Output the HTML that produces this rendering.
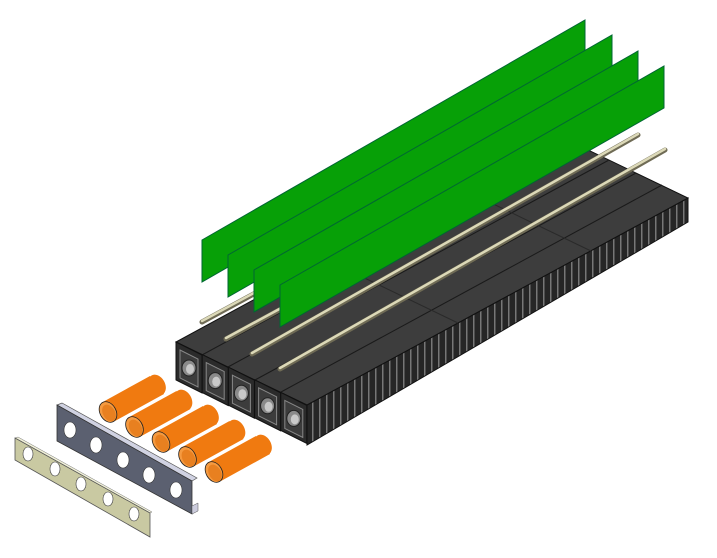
<!DOCTYPE html>
<html><head><meta charset="utf-8"><style>html,body{margin:0;padding:0;background:#fff}svg{display:block}</style></head>
<body>
<svg width="717" height="558" viewBox="0 0 717 558" xmlns="http://www.w3.org/2000/svg">
<defs>
<pattern id="ribs" patternUnits="userSpaceOnUse" width="7" height="40">
<rect width="7" height="40" fill="#262626"/>
<rect x="4" width="1.5" height="40" fill="#777"/>
</pattern>
</defs>
<polygon points="307,405 688,198 688,222 307,445" fill="url(#ribs)" stroke="#111" stroke-width="1"/>
<polygon points="176,342 307,405 688,198 557,135" fill="#3d3d3d" stroke="#111" stroke-width="1"/>
<g stroke="#1a1a1a" stroke-width="1">
<line x1="202" y1="355" x2="583" y2="148"/>
<line x1="228" y1="367" x2="609" y2="160"/>
<line x1="255" y1="380" x2="636" y2="173"/>
<line x1="281" y1="392" x2="662" y2="185"/>
</g>
<g stroke="#2a2a2a" stroke-width="1">
<line x1="327" y1="260" x2="458" y2="323"/>
<line x1="460" y1="188" x2="591" y2="251"/>
</g>
<g id="ch">
<polygon points="176,342 202,355 202,393 176,380" fill="#2b2b2b" stroke="#111"/>
<polygon points="180,350 198,359 198,387 180,378" fill="#3c3c3c" stroke="#888" stroke-width="1"/>
<ellipse cx="189" cy="368" rx="7" ry="8" fill="#8a8a8a" stroke="#222"/>
<ellipse cx="190" cy="369" rx="4" ry="5" fill="#c9c9c9"/>
</g>
<use href="#ch" transform="translate(26.2,12.6)"/>
<use href="#ch" transform="translate(52.4,25.2)"/>
<use href="#ch" transform="translate(78.6,37.8)"/>
<use href="#ch" transform="translate(104.8,50.4)"/>
<g stroke-linecap="round">
<g stroke="#6f6b55" stroke-width="5">
<line x1="202" y1="322" x2="560" y2="128"/>
<line x1="226" y1="339" x2="590" y2="141"/>
<line x1="252" y1="354" x2="638" y2="135"/>
<line x1="280" y1="369" x2="665" y2="150"/>
</g>
<g stroke="#dcd9b8" stroke-width="2.5">
<line x1="202" y1="321" x2="560" y2="127"/>
<line x1="226" y1="338" x2="590" y2="140"/>
<line x1="252" y1="353" x2="638" y2="134"/>
<line x1="280" y1="368" x2="665" y2="149"/>
</g>
</g>
<g fill="#07a007" stroke="#063" stroke-width="1">
<polygon points="202,240 585,20 585,62 202,282"/>
<polygon points="228,255 612,35 612,77 228,297"/>
<polygon points="254,270 638,51 638,93 254,312"/>
<polygon points="280,285 664,66 664,108 280,327"/>
</g>
<g id="tb">
<polygon points="101,403 150,376 164,394 115,421" fill="#f07a10"/>
<ellipse cx="157" cy="385" rx="8" ry="11" transform="rotate(-30 157 385)" fill="#f07a10"/>
<ellipse cx="108" cy="412" rx="8" ry="11" transform="rotate(-30 108 412)" fill="#f59a40" stroke="#222" stroke-width="0.8"/>
<ellipse cx="109" cy="413" rx="6" ry="9" transform="rotate(-30 109 413)" fill="#e88020"/>
</g>
<use href="#tb" transform="translate(26.5,15)"/>
<use href="#tb" transform="translate(53,30)"/>
<use href="#tb" transform="translate(79.5,45)"/>
<use href="#tb" transform="translate(106,60)"/>
<polygon points="57,405 62,403 197,478 192,481" fill="#d0d2e2" stroke="#555" stroke-width="0.7"/>
<polygon points="57,405 192,481 192,514 57,441" fill="#5b6070" stroke="#333" stroke-width="0.8"/>
<polygon points="192,506 198,503 198,511 192,514" fill="#ccd" stroke="#555" stroke-width="0.5"/>
<g fill="#fff" stroke="#333" stroke-width="0.6">
<ellipse cx="70" cy="430" rx="6" ry="8"/>
<ellipse cx="96" cy="445" rx="6" ry="8"/>
<ellipse cx="123" cy="460" rx="6" ry="8"/>
<ellipse cx="149" cy="475" rx="6" ry="8"/>
<ellipse cx="176" cy="490" rx="6" ry="8"/>
</g>
<polygon points="15,438 18,437 152,512 150,513" fill="#f0f0d8" stroke="#777" stroke-width="0.5"/>
<polygon points="15,438 150,513 150,537 15,460" fill="#c9c9a2" stroke="#555" stroke-width="0.8"/>
<g fill="#fff" stroke="#444" stroke-width="0.6">
<ellipse cx="28" cy="454" rx="5" ry="7"/>
<ellipse cx="55" cy="469" rx="5" ry="7"/>
<ellipse cx="81" cy="484" rx="5" ry="7"/>
<ellipse cx="108" cy="499" rx="5" ry="7"/>
<ellipse cx="134" cy="514" rx="5" ry="7"/>
</g>
</svg>
</body></html>
